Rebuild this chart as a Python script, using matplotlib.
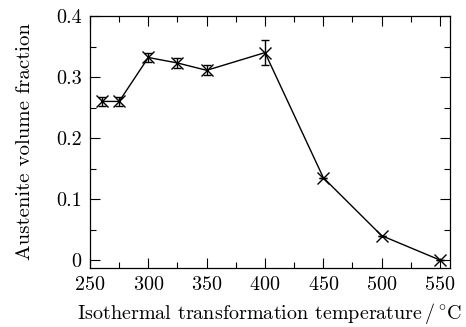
import matplotlib
matplotlib.use("Agg")
import matplotlib.pyplot as plt

temps = [260, 275, 300, 325, 350, 400, 450, 500, 550]
fraction = [0.260, 0.260, 0.332, 0.323, 0.311, 0.340, 0.135, 0.040, 0.000]
errors = [0.008, 0.008, 0.008, 0.008, 0.008, 0.020, 0.000, 0.000, 0.000]
xticks = [250, 300, 350, 400, 450, 500, 550]
yticks = [0, 0.1, 0.2, 0.3, 0.4]
ytick_labels = ["0", "0.1", "0.2", "0.3", "0.4"]

plt.rcParams['font.family'] = ['cmr10', 'DejaVu Serif']
plt.rcParams['mathtext.fontset'] = 'cm'
plt.rcParams['axes.unicode_minus'] = False
plt.rcParams['axes.formatter.use_mathtext'] = True

fig = plt.figure(figsize=(4.66, 3.27), dpi=100)
ax = fig.add_axes([90/466, 1-268/327, 360/466, 252/327])

ax.errorbar(temps, fraction, yerr=errors, color='black', lw=1.0, marker='x',
            markersize=8, mew=1.0, capsize=3, elinewidth=1.0, capthick=1.0)

ax.set_xlim(250, 558.6)
ax.set_ylim(-0.013, 0.4)
ax.set_xticks(xticks)
ax.set_xticks(range(250, 551, 25), minor=True)
ax.set_yticks(yticks)
ax.set_yticklabels(ytick_labels)
ax.set_yticks([0.05, 0.15, 0.25, 0.35], minor=True)
ax.tick_params(which='both', direction='in', top=True, right=True, labelsize=14.5,
               width=0.8, color='black')
ax.tick_params(which='major', length=7.5, pad=6)
ax.tick_params(which='minor', length=4)
for s in ax.spines.values():
    s.set_linewidth(0.9)

ax.set_xlabel(r"Isothermal transformation temperature$\,/\,^{\circ}$C", fontsize=14.5, labelpad=5)
ax.set_ylabel("Austenite volume fraction", fontsize=15, labelpad=16)

fig.savefig("out.png", dpi=100)
